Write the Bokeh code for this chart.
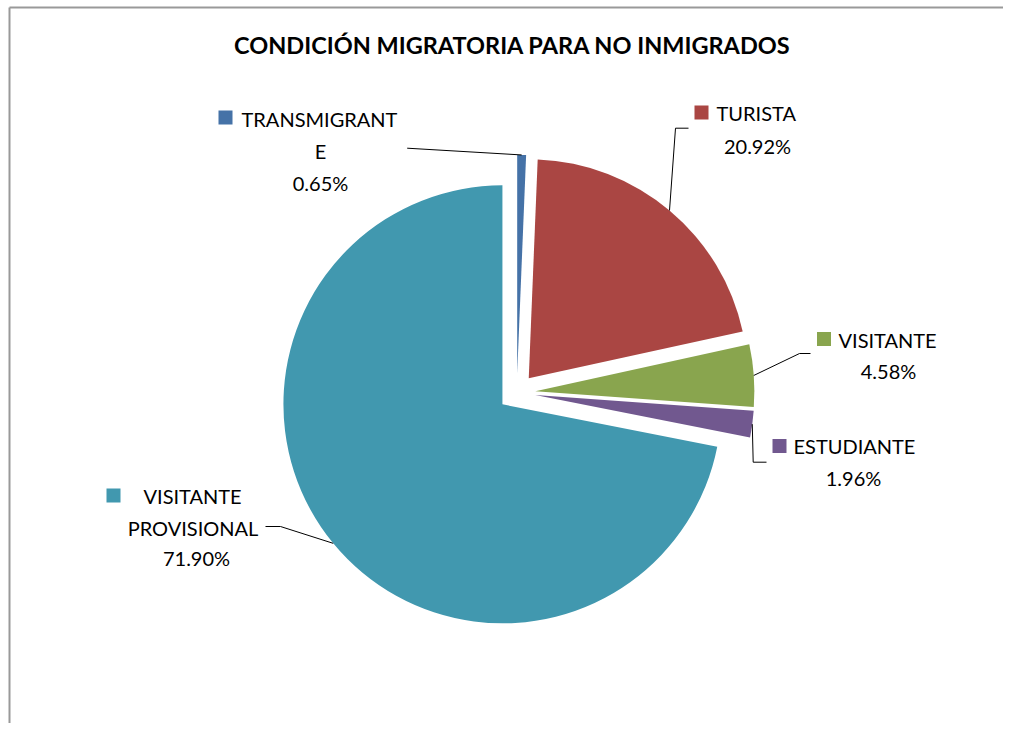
import numpy as np
from bokeh.plotting import figure
from bokeh.models import Range1d
from bokeh.core.properties import value
from bokeh.embed import file_html
from bokeh.resources import INLINE

# ---- data ----
categories = ["TRANSMIGRANTE", "TURISTA", "VISITANTE", "ESTUDIANTE", "VISITANTE PROVISIONAL"]
percentages = [0.65, 20.92, 4.58, 1.96, 71.90]
colors = ["#4572A7", "#AA4643", "#89A54E", "#71588F", "#4198AF"]
label_lines = [
    ["TRANSMIGRANT", "E", "0.65%"],
    ["TURISTA", "20.92%"],
    ["VISITANTE", "4.58%"],
    ["ESTUDIANTE", "1.96%"],
    ["VISITANTE", "PROVISIONAL", "71.90%"],
]
title_text = "CONDICIÓN MIGRATORIA PARA  NO INMIGRADOS"

# ---- layout (pixels, y up) ----
W, H = 1003, 723
CX, CY = 508.3, 339.0
R = 219.0
EXPLODE = 18.6
FONT = "Lato"
FS = "20px"

p = figure(width=W, height=H, x_range=Range1d(-8, W - 8), y_range=Range1d(8, H + 8),
           output_backend="svg", toolbar_location=None, min_border=0,
           x_axis_type=None, y_axis_type=None)
p.grid.visible = False
p.outline_line_color = None
p.background_fill_color = "white"
p.border_fill_color = "white"

vals = np.array(percentages)
frac = vals / vals.sum()
cum = np.concatenate([[0], np.cumsum(frac)])
start_cw = cum[:-1] * 360.0
end_cw = cum[1:] * 360.0
mid_cw = (start_cw + end_cw) / 2.0
rad = np.deg2rad(mid_cw)
ax = CX + EXPLODE * np.sin(rad)
ay = CY + EXPLODE * np.cos(rad)

p.wedge(x=list(ax), y=list(ay), radius=R, radius_units="data",
        start_angle=list(np.deg2rad(90 - start_cw)), end_angle=list(np.deg2rad(90 - end_cw)),
        direction="clock", fill_color=colors, line_color=None)

# leader end points on arc midpoint
ex = ax + R * np.sin(rad)
ey = ay + R * np.cos(rad)

# leader start / elbow points (label side)
leader_pts = [
    [(398.7, 583.3)],
    [(680, 603.3), (667, 603.3)],
    [(802, 378), (791, 378)],
    [(758, 269.3), (744.7, 269.3)],
    [(257, 205), (272, 205)],
]
for i, pts in enumerate(leader_pts):
    xs = [q[0] for q in pts] + [ex[i]]
    ys = [q[1] for q in pts] + [ey[i]]
    p.line(xs, ys, line_color="black", line_width=1)

# legend squares
sq_pos = [(217, 614), (693, 619), (815.5, 392.5), (771, 285.5), (105, 236)]
p.rect(x=[s[0] for s in sq_pos], y=[s[1] for s in sq_pos], width=14, height=14,
       fill_color=colors, line_color=None)

# label text positions: (x, y, align)
text_pos = [
    [(233, 613, "left"), (312, 581, "center"), (312, 549, "center")],
    [(708, 619, "left"), (749, 586, "center")],
    [(830, 392, "left"), (880, 361, "center")],
    [(785, 286, "left"), (845, 254, "center")],
    [(135, 236, "left"), (184.5, 204, "center"), (188, 174, "center")],
]
for lines, poss in zip(label_lines, text_pos):
    for t, (x, y, al) in zip(lines, poss):
        p.text(x=[x], y=[y], text=[t], text_align=al, text_baseline="middle",
               text_font=value(FONT), text_font_size=FS, text_color="#000000")

# title
p.text(x=[507], y=[687], text=[title_text], text_align="center", text_baseline="middle",
       text_font=value(FONT), text_font_size="23.5px", text_font_style="bold", text_color="#000000")

# chart border (left and top)
p.line([1, 1], [8, 724], line_color="#999999", line_width=2)
p.line([1, W], [724, 724], line_color="#999999", line_width=2)

open("out.html", "w").write(file_html(p, INLINE))
